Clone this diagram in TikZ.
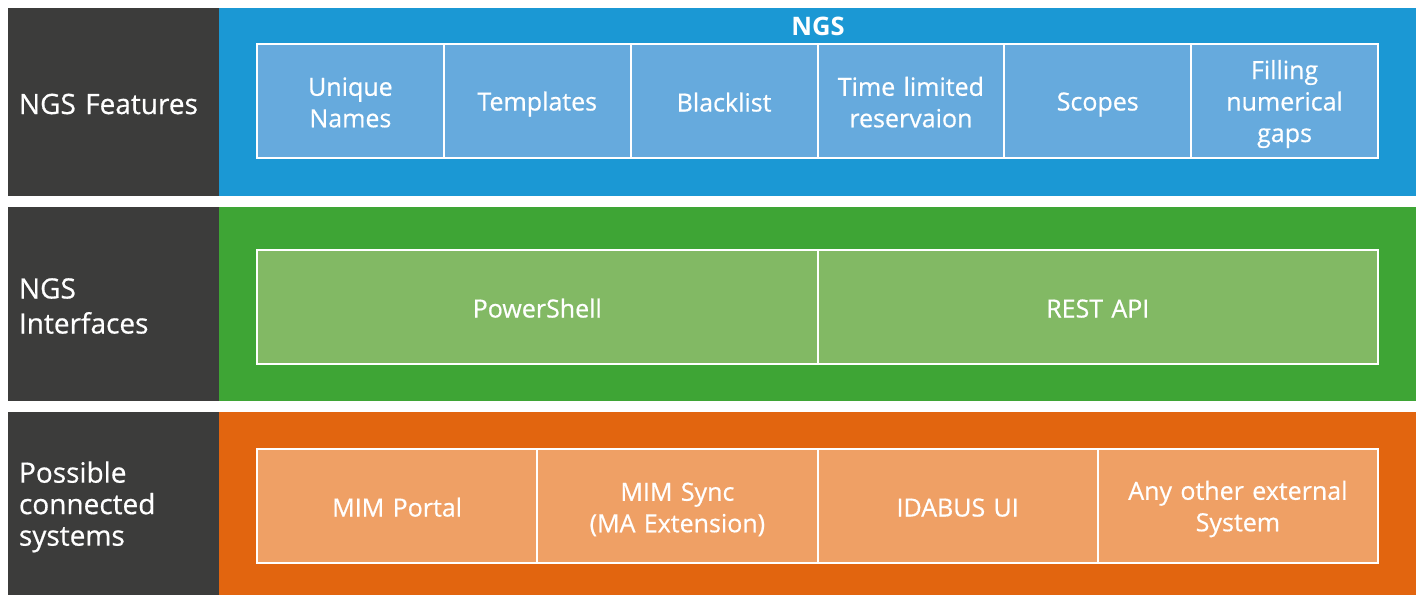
\documentclass[tikz,border=0pt]{standalone}
\usepackage{fontspec}
\setmainfont{Open Sans}[UprightFeatures={FakeBold=0.6}]
\usepackage{xcolor}
\usetikzlibrary{positioning}
\definecolor{headgrey}{HTML}{3C3C3B}
\definecolor{ngsblue}{HTML}{1B98D4}
\definecolor{featblue}{HTML}{66AADD}
\definecolor{ngsgreen}{HTML}{3EA535}
\definecolor{ifgreen}{HTML}{82B964}
\definecolor{ngsorange}{HTML}{E2650F}
\definecolor{sysorange}{HTML}{EFA065}
\newcommand\headstrut{\rule[-4pt]{0pt}{32pt}}
\newcommand\boxstrut{\rule[-4pt]{0pt}{29pt}}
\tikzstyle{head} = [rectangle, fill=headgrey, text=white, font=\fontsize{28}{35}\selectfont,
align=left, text width=189pt, inner xsep=11pt, inner ysep=0pt, outer sep=0pt, anchor=north west,
execute at begin node=\headstrut, execute at end node=\headstrut]
\tikzstyle{band} = [rectangle, inner sep=0pt, outer sep=0pt, minimum width=1197pt]
\tikzstyle{box} = [rectangle, draw=white, line width=2pt, text=white, font=\fontsize{25}{31.5}\selectfont,
align=center, inner sep=0pt, outer sep=0pt, minimum height=114pt,
execute at begin node=\boxstrut, execute at end node=\boxstrut]

\begin{document}
\begin{tikzpicture}[x=1pt, y=-1pt]
    \useasboundingbox [fill=white] (0,0) rectangle (1421,595);
    % rows
    \node [head, minimum height=188pt] (feathead) at (8,8) {NGS Features};
    \node [band, fill=ngsblue, minimum height=188pt, right=0pt of feathead] (featband) {};
    \node [head, minimum height=194pt] (ifhead) at (8,207) {NGS\\Interfaces};
    \node [band, fill=ngsgreen, minimum height=194pt, right=0pt of ifhead] (ifband) {};
    \node [head, minimum height=183pt, font=\fontsize{28}{31.5}\selectfont] (syshead) at (8,412) {Possible\\connected\\systems};
    \node [band, fill=ngsorange, minimum height=183pt, right=0pt of syshead] (sysband) {};

    % features
    \node [font=\bfseries\fontsize{25.5}{30}\selectfont, text=white] (ngstitle) at (818,26.5) {NGS};
    \node [box, fill=featblue, text width=186.83pt, anchor=north west] (unique) at (257,44) {Unique\\Names};
    \node [box, fill=featblue, text width=186.83pt, right=0pt of unique] (templ) {Templates};
    \node [box, fill=featblue, text width=186.83pt, right=0pt of templ] (blackl) {Blacklist};
    \node [box, fill=featblue, text width=186.83pt, right=0pt of blackl] (timeres) {Time limited\\reservaion};
    \node [box, fill=featblue, text width=186.83pt, right=0pt of timeres] (scopes) {Scopes};
    \node [box, fill=featblue, text width=186.83pt, right=0pt of scopes] (gaps) {Filling\\numerical\\gaps};

    % interfaces
    \node [box, fill=ifgreen, text width=560.5pt, anchor=north west] (pshell) at (257,250) {PowerShell};
    \node [box, fill=ifgreen, text width=560.5pt, right=0pt of pshell] (rest) {REST API};

    % systems
    \node [box, fill=sysorange, text width=280.25pt, anchor=north west] (portal) at (257,449) {MIM Portal};
    \node [box, fill=sysorange, text width=280.25pt, right=0pt of portal] (sync) {MIM Sync\\(MA Extension)};
    \node [box, fill=sysorange, text width=280.25pt, right=0pt of sync] (idabus) {IDABUS UI};
    \node [box, fill=sysorange, text width=280.25pt, right=0pt of idabus] (other) {Any other external\\System};
\end{tikzpicture}
\end{document}
